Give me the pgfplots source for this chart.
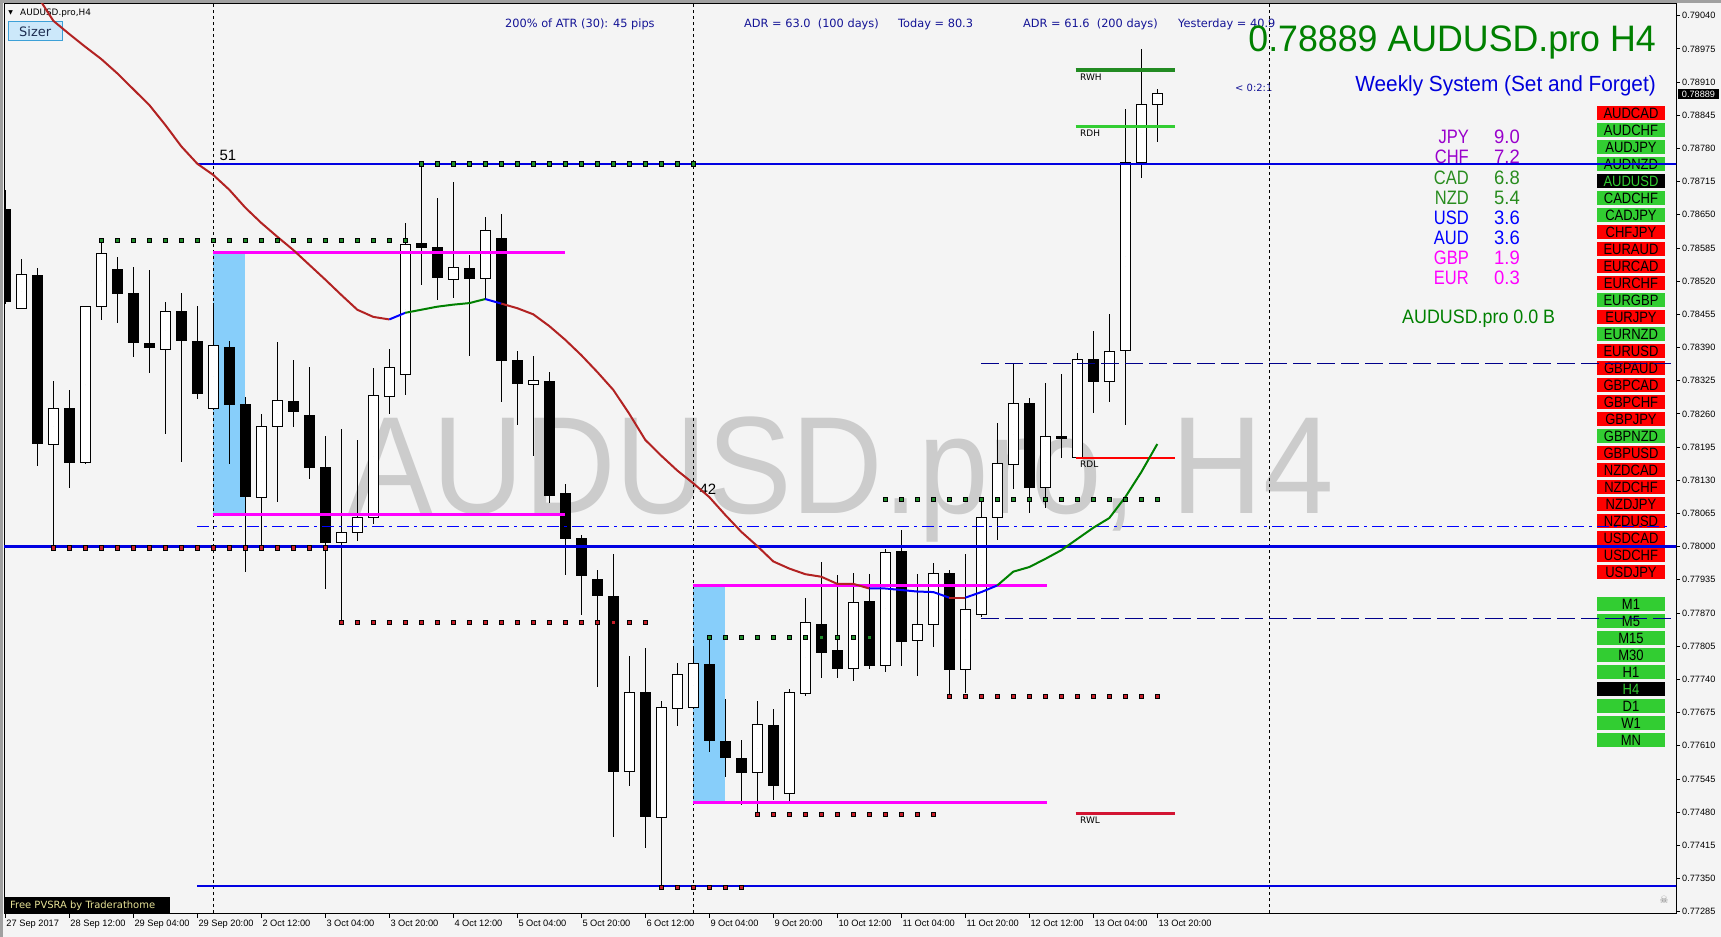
\documentclass[border=0pt]{standalone}
\usepackage{pgfplots}
\pgfplotsset{compat=1.18}
\usepackage{pgfplotstable}
\usepackage{graphicx}
\usepackage{fontspec}
\setmainfont{Liberation Sans}
\newfontfamily\dv{DejaVu Sans}
\newcommand\fs[1]{\fontsize{#1}{#1}\selectfont}

\definecolor{bg}{RGB}{244,244,244}
\definecolor{maRed}{RGB}{178,34,34}
\definecolor{maGreen}{RGB}{0,128,0}
\definecolor{maBlue}{RGB}{0,0,255}
\definecolor{lvlBlue}{RGB}{0,0,225}
\definecolor{navy}{RGB}{0,0,139}
\definecolor{mag}{RGB}{255,0,255}
\definecolor{skyb}{RGB}{135,206,250}
\definecolor{dotG}{RGB}{30,140,40}
\definecolor{dotR}{RGB}{200,30,40}
\definecolor{rwh}{RGB}{34,139,34}
\definecolor{rdh}{RGB}{50,205,50}
\definecolor{rdl}{RGB}{255,0,0}
\definecolor{rwl}{RGB}{210,20,50}
\definecolor{btnR}{RGB}{255,0,0}
\definecolor{btnG}{RGB}{50,205,50}
\definecolor{wm}{RGB}{204,204,204}
\definecolor{txtnavy}{RGB}{20,20,150}
\definecolor{purp}{RGB}{153,0,204}
\definecolor{cadg}{RGB}{40,140,30}
\definecolor{pvsra}{RGB}{230,225,150}
\definecolor{sizerfill}{RGB}{204,232,250}
\definecolor{sizerdraw}{RGB}{60,160,215}
\definecolor{sizertext}{RGB}{30,45,80}
\definecolor{wkblue}{RGB}{0,0,220}
\definecolor{frame}{RGB}{160,160,160}

\pgfplotsset{candlebar/.style={only marks, mark=*, mark size=0pt, mark options={draw=none, fill=none},
  error bars/.cd, y dir=both, y explicit, error mark=none}}

% bearish candles (open > close)
\pgfplotstableread{
i o h l c
0 0.78663 0.78700 0.78475 0.78480
2 0.78533 0.78546 0.78159 0.78202
4 0.78273 0.78307 0.78115 0.78166
7 0.78545 0.78569 0.78439 0.78495
8 0.78496 0.78550 0.78373 0.78398
9 0.78399 0.78542 0.78341 0.78390
11 0.78461 0.78498 0.78166 0.78403
12 0.78404 0.78471 0.78290 0.78300
14 0.78392 0.78404 0.78162 0.78278
15 0.78279 0.78293 0.77951 0.78098
18 0.78287 0.78366 0.78235 0.78265
19 0.78259 0.78352 0.78134 0.78155
20 0.78158 0.78218 0.77918 0.78009
26 0.78597 0.78749 0.78512 0.78586
27 0.78587 0.78684 0.78484 0.78527
29 0.78547 0.78572 0.78374 0.78525
31 0.78605 0.78653 0.78284 0.78363
32 0.78367 0.78384 0.78239 0.78320
34 0.78324 0.78342 0.78085 0.78100
35 0.78105 0.78123 0.77945 0.78016
36 0.78017 0.78024 0.77867 0.77943
37 0.77937 0.77954 0.77726 0.77904
38 0.77905 0.77986 0.77432 0.77560
40 0.77715 0.77803 0.77412 0.77470
44 0.77772 0.77819 0.77598 0.77620
45 0.77621 0.77702 0.77549 0.77587
46 0.77587 0.77621 0.77494 0.77558
48 0.77652 0.77682 0.77504 0.77532
51 0.77849 0.77971 0.77744 0.77792
52 0.77798 0.77944 0.77742 0.77761
54 0.77894 0.77948 0.77761 0.77767
56 0.77992 0.78035 0.77769 0.77815
59 0.77950 0.77956 0.77711 0.77759
64 0.78283 0.78292 0.78067 0.78116
66 0.78217 0.78338 0.78175 0.78211
68 0.78367 0.78424 0.78262 0.78323
}\bear

% bullish candles (close > open)
\pgfplotstableread{
i o h l c
1 0.78466 0.78563 0.78466 0.78533
3 0.78202 0.78324 0.77995 0.78273
5 0.78166 0.78472 0.78162 0.78471
6 0.78471 0.78597 0.78446 0.78575
10 0.78387 0.78479 0.78221 0.78461
13 0.78271 0.78477 0.78268 0.78394
16 0.78097 0.78261 0.77995 0.78236
17 0.78235 0.78401 0.78088 0.78287
21 0.78009 0.78231 0.77852 0.78029
22 0.78028 0.78209 0.78012 0.78058
23 0.78058 0.78350 0.78046 0.78297
24 0.78296 0.78387 0.78260 0.78352
25 0.78339 0.78635 0.78298 0.78594
28 0.78525 0.78716 0.78488 0.78547
30 0.78525 0.78647 0.78484 0.78620
33 0.78319 0.78375 0.78179 0.78327
39 0.77560 0.77786 0.77532 0.77715
41 0.77470 0.77698 0.77334 0.77685
42 0.77683 0.77773 0.77649 0.77750
43 0.77687 0.77805 0.77684 0.77772
47 0.77558 0.77698 0.77480 0.77652
49 0.77517 0.77723 0.77504 0.77715
50 0.77713 0.77900 0.77709 0.77851
53 0.77761 0.77950 0.77738 0.77891
55 0.77768 0.77997 0.77755 0.77990
57 0.77816 0.77948 0.77749 0.77848
58 0.77848 0.77968 0.77804 0.77948
60 0.77761 0.77986 0.77713 0.77877
61 0.77869 0.78087 0.77862 0.78059
62 0.78057 0.78242 0.78012 0.78163
63 0.78161 0.78358 0.78112 0.78281
65 0.78116 0.78321 0.78076 0.78216
67 0.78175 0.78380 0.78172 0.78367
69 0.78323 0.78458 0.78285 0.78382
70 0.78384 0.78857 0.78239 0.78753
71 0.78752 0.78975 0.78723 0.78866
72 0.78867 0.78898 0.78794 0.78889
}\bull

% moving average
\pgfplotstableread{
i p
2 0.79079
3 0.79030
4 0.79004
5 0.78979
6 0.78955
7 0.78927
8 0.78896
9 0.78865
10 0.78826
11 0.78784
12 0.78750
13 0.78728
14 0.78699
15 0.78664
16 0.78634
17 0.78607
18 0.78581
19 0.78552
20 0.78523
21 0.78493
22 0.78464
23 0.78450
24 0.78445
25 0.78458
26 0.78464
27 0.78470
28 0.78474
29 0.78477
30 0.78485
31 0.78476
32 0.78467
33 0.78455
34 0.78432
35 0.78405
36 0.78375
37 0.78342
38 0.78307
39 0.78260
40 0.78209
41 0.78178
42 0.78149
43 0.78124
44 0.78097
45 0.78062
46 0.78029
47 0.78001
48 0.77971
49 0.77957
50 0.77946
51 0.77941
52 0.77927
53 0.77927
54 0.77918
55 0.77918
56 0.77915
57 0.77912
58 0.77911
59 0.77900
60 0.77900
61 0.77911
62 0.77924
63 0.77951
64 0.77960
65 0.77976
66 0.77993
67 0.78015
68 0.78037
69 0.78056
70 0.78097
71 0.78146
72 0.78201
}\ma

\begin{document}
\begin{tikzpicture}
\fill[bg] (0,0) rectangle (1721bp,937bp);
\fill[frame] (0,934bp) rectangle (1721bp,937bp);
\fill[frame] (0,0) rectangle (2.5bp,937bp);
% watermark
\node[anchor=base west, inner sep=0pt, text=wm, font=\fs{139}] at (348bp,423bp) {\scalebox{0.915}[1]{AUDUSD.pro, H4}};

\begin{scope}[x=1bp,y=-1bp,yshift=937bp]
% top-left
\node[inner sep=0pt, font=\dv\fs{6}] at (10.7,12.7) {▼};
\node[anchor=west, inner sep=0pt, font=\dv\fs{8.9}] at (20,12.7) {AUDUSD.pro,H4};
\draw[sizerdraw, fill=sizerfill] (8,21.7) rectangle (62.5,40.7);
\node[inner sep=0pt, font=\dv\fs{13}, text=sizertext] at (35.2,31.2) {Sizer};
% top info line
\node[anchor=base west, inner sep=0pt, font=\dv\fs{11.4}, text=txtnavy] at (505,28) {200\% of ATR (30): 45 pips};
\node[anchor=base west, inner sep=0pt, font=\dv\fs{11.4}, text=txtnavy] at (744,28) {ADR = 63.0\ \ (100 days)};
\node[anchor=base west, inner sep=0pt, font=\dv\fs{11.4}, text=txtnavy] at (898,28) {Today = 80.3};
\node[anchor=base west, inner sep=0pt, font=\dv\fs{11.4}, text=txtnavy] at (1023,28) {ADR = 61.6\ \ (200 days)};
\node[anchor=base west, inner sep=0pt, font=\dv\fs{11.4}, text=txtnavy] at (1178,28) {Yesterday = 40.9};
\node[anchor=base east, inner sep=0pt, text=maGreen, font=\fs{37}] at (1656,51.7) {\scalebox{0.97}[1]{0.78889 AUDUSD.pro H4}};
\node[anchor=base east, inner sep=0pt, text=wkblue, font=\fs{22}] at (1656,91.5) {\scalebox{0.95}[1]{Weekly System (Set and Forget)}};
\node[anchor=base west, inner sep=0pt, font=\dv\fs{10}, text=txtnavy] at (1235,92) {< 0:2:1};
% currency strength
\foreach \n/\v/\b/\c in {JPY/9.0/144/purp, CHF/7.2/164/purp, CAD/6.8/184.7/cadg, NZD/5.4/204.7/cadg, USD/3.6/224.7/maBlue, AUD/3.6/244.7/maBlue, GBP/1.9/264.7/mag, EUR/0.3/284.7/mag}{
  \node[anchor=base east, inner sep=0pt, text=\c, font=\fs{19.5}] at (1469,\b) {\scalebox{0.85}[1]{\n}};
  \node[anchor=base west, inner sep=0pt, text=\c, font=\fs{19.5}] at (1494,\b) {\scalebox{0.95}[1]{\v}};
}
\node[anchor=base west, inner sep=0pt, text=maGreen, font=\fs{19.5}] at (1402,324) {\scalebox{0.92}[1]{AUDUSD.pro 0.0 B}};
% symbol buttons
\foreach \n/\c/\t [count=\k from 0] in {AUDCAD/btnR/black, AUDCHF/btnG/black, AUDJPY/btnG/black, AUDNZD/btnG/black, AUDUSD/black/btnG, CADCHF/btnG/black, CADJPY/btnG/black, CHFJPY/btnR/black, EURAUD/btnR/black, EURCAD/btnR/black, EURCHF/btnR/black, EURGBP/btnG/black, EURJPY/btnR/black, EURNZD/btnG/black, EURUSD/btnR/black, GBPAUD/btnR/black, GBPCAD/btnR/black, GBPCHF/btnR/black, GBPJPY/btnR/black, GBPNZD/btnG/black, GBPUSD/btnR/black, NZDCAD/btnR/black, NZDCHF/btnR/black, NZDJPY/btnR/black, NZDUSD/btnR/black, USDCAD/btnR/black, USDCHF/btnR/black, USDJPY/btnR/black}{
  \fill[\c] (1597,{106+17*\k}) rectangle (1665,{120+17*\k});
  \node[inner sep=0pt, text=\t, font=\fs{15}] at (1631,{113.3+17*\k}) {\scalebox{0.87}[1]{\n}};
}
\foreach \n/\c/\t [count=\k from 0] in {M1/btnG/black, M5/btnG/black, M15/btnG/black, M30/btnG/black, H1/btnG/black, H4/black/btnG, D1/btnG/black, W1/btnG/black, MN/btnG/black}{
  \fill[\c] (1597,{597+17*\k}) rectangle (1665,{611+17*\k});
  \node[inner sep=0pt, text=\t, font=\fs{15}] at (1631,{604.3+17*\k}) {\scalebox{0.87}[1]{\n}};
}
% level labels
\node[inner sep=0pt, font=\fs{15}] at (228,155) {51};
\node[inner sep=0pt, font=\fs{15}] at (708,489) {42};
\node[anchor=west, inner sep=0pt, font=\dv\fs{9}] at (1080,77) {RWH};
\node[anchor=west, inner sep=0pt, font=\dv\fs{9}] at (1080,133.3) {RDH};
\node[anchor=west, inner sep=0pt, font=\dv\fs{9}] at (1080,464.3) {RDL};
\node[anchor=west, inner sep=0pt, font=\dv\fs{9}] at (1080,820) {RWL};
% PVSRA box
\fill[black] (4,896.7) rectangle (170,913.5);
\node[anchor=west, inner sep=0pt, text=pvsra, font=\dv\fs{10}] at (10,905.3) {Free PVSRA by Traderathome};
\node[inner sep=0pt, text=gray, font=\dv\fs{10}] at (1664,900) {☠};
\end{scope}

\begin{axis}[
 at={(4bp,23bp)}, anchor=south west,
 scale only axis, width=1672bp, height=910bp,
 xmin=-0.08125, xmax=104.41875,
 ymin=0.772804, ymax=0.790629,
 axis line style={black, line width=1bp},
 xtick pos=lower, ytick pos=right, yticklabel pos=right,
 tick align=outside, major tick length=4bp,
 tick style={black, line width=0.8bp},
 xtick={0,4,...,72},
 xticklabels={27 Sep 2017,28 Sep 12:00,29 Sep 04:00,29 Sep 20:00,2 Oct 12:00,3 Oct 04:00,3 Oct 20:00,4 Oct 12:00,5 Oct 04:00,5 Oct 20:00,6 Oct 12:00,9 Oct 04:00,9 Oct 20:00,10 Oct 12:00,11 Oct 04:00,11 Oct 20:00,12 Oct 12:00,13 Oct 04:00,13 Oct 20:00},
 ytick={0.77285,0.77350,0.77415,0.77480,0.77545,0.77610,0.77675,0.77740,0.77805,0.77870,0.77935,0.78000,0.78065,0.78130,0.78195,0.78260,0.78325,0.78390,0.78455,0.78520,0.78585,0.78650,0.78715,0.78780,0.78845,0.78910,0.78975,0.79040},
 yticklabels={0.77285,0.77350,0.77415,0.77480,0.77545,0.77610,0.77675,0.77740,0.77805,0.77870,0.77935,0.78000,0.78065,0.78130,0.78195,0.78260,0.78325,0.78390,0.78455,0.78520,0.78585,0.78650,0.78715,0.78780,0.78845,0.78910,0.78975,0.79040},
 xticklabel style={font=\fs{9.3}, anchor=north west, inner sep=0pt, xshift=1bp, yshift=-2bp},
 yticklabel style={font=\fs{9.2}, anchor=west, inner sep=0pt, xshift=2bp},
 scaled y ticks=false,
]
% zones
\addplot[fill=skyb, draw=none] coordinates {(13,0.78577) (15,0.78577) (15,0.78063) (13,0.78063)} -- cycle;
\addplot[fill=skyb, draw=none] coordinates {(43,0.77923) (45,0.77923) (45,0.77499) (43,0.77499)} -- cycle;
% separators
\addplot[black, line width=1bp, dash pattern=on 3bp off 3bp] coordinates {(13,0.7720) (13,0.7910)};
\addplot[black, line width=1bp, dash pattern=on 3bp off 3bp] coordinates {(43,0.7720) (43,0.7910)};
\addplot[black, line width=1bp, dash pattern=on 3bp off 3bp] coordinates {(79,0.7720) (79,0.7910)};
% candles: wicks
\addplot[candlebar, error bar style={black, line width=1bp, line cap=butt}]
  table[x=i, y expr={(\thisrow{h}+\thisrow{l})/2}, y error expr={(\thisrow{h}-\thisrow{l})/2}] {\bear};
\addplot[candlebar, error bar style={black, line width=1bp, line cap=butt}]
  table[x=i, y expr={(\thisrow{h}+\thisrow{l})/2}, y error expr={(\thisrow{h}-\thisrow{l})/2}] {\bull};
% bearish bodies
\addplot[candlebar, error bar style={black, line width=10.5bp, line cap=butt}]
  table[x=i, y expr={(\thisrow{o}+\thisrow{c})/2}, y error expr={max((\thisrow{o}-\thisrow{c})/2,0.0000098)}] {\bear};
% bullish bodies
\addplot[candlebar, error bar style={black, line width=10.5bp, line cap=butt}]
  table[x=i, y expr={(\thisrow{o}+\thisrow{c})/2}, y error expr={(\thisrow{c}-\thisrow{o})/2+0.0000098}] {\bull};
\addplot[candlebar, error bar style={white, line width=8.5bp, line cap=butt}]
  table[x=i, y expr={(\thisrow{o}+\thisrow{c})/2}, y error expr={max((\thisrow{c}-\thisrow{o})/2-0.0000098,0)}] {\bull};
% horizontal levels
\addplot[lvlBlue, line width=2bp] coordinates {(12,0.78750) (104.6,0.78750)};
\addplot[lvlBlue, line width=3bp] coordinates {(-1,0.78000) (104.6,0.78000)};
\addplot[lvlBlue, line width=2bp] coordinates {(12,0.77335) (104.6,0.77335)};
\addplot[navy, line width=1bp, dash pattern=on 18bp off 6bp] coordinates {(61,0.78358) (104.1,0.78358)};
\addplot[navy, line width=1bp, dash pattern=on 18bp off 6bp] coordinates {(61,0.77860) (104.1,0.77860)};
\addplot[maBlue, line width=1bp, dash pattern=on 12bp off 5bp on 3bp off 5bp] coordinates {(12,0.78040) (104.1,0.78040)};
% magenta zone lines
\addplot[mag, line width=3bp] coordinates {(13,0.78577) (35,0.78577)};
\addplot[mag, line width=3bp] coordinates {(13,0.78063) (35,0.78063)};
\addplot[mag, line width=3bp] coordinates {(43,0.77923) (65.1,0.77923)};
\addplot[mag, line width=3bp] coordinates {(43,0.77499) (65.1,0.77499)};
% range lines
\addplot[rwh, line width=4bp] coordinates {(66.9,0.78933) (73.1,0.78933)};
\addplot[rdh, line width=2.5bp] coordinates {(66.9,0.78823) (73.1,0.78823)};
\addplot[rdl, line width=2.5bp] coordinates {(66.9,0.78174) (73.1,0.78174)};
\addplot[rwl, line width=3bp] coordinates {(66.9,0.77478) (73.1,0.77478)};
% dotted levels
\addplot[only marks, mark=square*, mark size=2.2bp, mark options={draw=none, fill=dotG}] coordinates {(6,0.78600)(7,0.78600)(8,0.78600)(9,0.78600)(10,0.78600)(11,0.78600)(12,0.78600)(13,0.78600)(14,0.78600)(15,0.78600)(16,0.78600)(17,0.78600)(18,0.78600)(19,0.78600)(20,0.78600)(21,0.78600)(22,0.78600)(23,0.78600)(24,0.78600)(25,0.78600)};
\addplot[only marks, mark=square*, mark size=2.2bp, mark options={draw=none, fill=dotG}] coordinates {(26,0.78750)(27,0.78750)(28,0.78750)(29,0.78750)(30,0.78750)(31,0.78750)(32,0.78750)(33,0.78750)(34,0.78750)(35,0.78750)(36,0.78750)(37,0.78750)(38,0.78750)(39,0.78750)(40,0.78750)(41,0.78750)(42,0.78750)(43,0.78750)};
\addplot[only marks, mark=square*, mark size=2.2bp, mark options={draw=none, fill=dotG}] coordinates {(44,0.77822)(45,0.77822)(46,0.77822)(47,0.77822)(48,0.77822)(49,0.77822)(50,0.77822)(51,0.77822)(52,0.77822)(53,0.77822)(54,0.77822)};
\addplot[only marks, mark=square*, mark size=2.2bp, mark options={draw=none, fill=dotG}] coordinates {(55,0.78093)(56,0.78093)(57,0.78093)(58,0.78093)(59,0.78093)(60,0.78093)(61,0.78093)(62,0.78093)(63,0.78093)(64,0.78093)(65,0.78093)(66,0.78093)(67,0.78093)(68,0.78093)(69,0.78093)(70,0.78093)(71,0.78093)(72,0.78093)};
\addplot[only marks, mark=square*, mark size=2.2bp, mark options={draw=none, fill=dotR}] coordinates {(3,0.77998)(4,0.77998)(5,0.77998)(6,0.77998)(7,0.77998)(8,0.77998)(9,0.77998)(10,0.77998)(11,0.77998)(12,0.77998)(13,0.77998)(14,0.77998)(15,0.77998)(16,0.77998)(17,0.77998)(18,0.77998)(19,0.77998)(20,0.77998)};
\addplot[only marks, mark=square*, mark size=2.2bp, mark options={draw=none, fill=dotR}] coordinates {(21,0.77852)(22,0.77852)(23,0.77852)(24,0.77852)(25,0.77852)(26,0.77852)(27,0.77852)(28,0.77852)(29,0.77852)(30,0.77852)(31,0.77852)(32,0.77852)(33,0.77852)(34,0.77852)(35,0.77852)(36,0.77852)(37,0.77852)(38,0.77852)(39,0.77852)(40,0.77852)};
\addplot[only marks, mark=square*, mark size=2.2bp, mark options={draw=none, fill=dotR}] coordinates {(41,0.77333)(42,0.77333)(43,0.77333)(44,0.77333)(45,0.77333)(46,0.77333)};
\addplot[only marks, mark=square*, mark size=2.2bp, mark options={draw=none, fill=dotR}] coordinates {(47,0.77476)(48,0.77476)(49,0.77476)(50,0.77476)(51,0.77476)(52,0.77476)(53,0.77476)(54,0.77476)(55,0.77476)(56,0.77476)(57,0.77476)(58,0.77476)};
\addplot[only marks, mark=square*, mark size=2.2bp, mark options={draw=none, fill=dotR}] coordinates {(59,0.77707)(60,0.77707)(61,0.77707)(62,0.77707)(63,0.77707)(64,0.77707)(65,0.77707)(66,0.77707)(67,0.77707)(68,0.77707)(69,0.77707)(70,0.77707)(71,0.77707)(72,0.77707)};
% moving average
\addplot[maRed, line width=2bp, restrict x to domain=0:24] table[x=i,y=p] {\ma};
\addplot[maBlue, line width=2bp, restrict x to domain=24:25] table[x=i,y=p] {\ma};
\addplot[maGreen, line width=2bp, restrict x to domain=25:30] table[x=i,y=p] {\ma};
\addplot[maBlue, line width=2bp, restrict x to domain=30:31] table[x=i,y=p] {\ma};
\addplot[maRed, line width=2bp, restrict x to domain=31:54] table[x=i,y=p] {\ma};
\addplot[maBlue, line width=2bp, restrict x to domain=54:59] table[x=i,y=p] {\ma};
\addplot[maRed, line width=2bp, restrict x to domain=59:60] table[x=i,y=p] {\ma};
\addplot[maBlue, line width=2bp, restrict x to domain=60:62] table[x=i,y=p] {\ma};
\addplot[maGreen, line width=2bp, restrict x to domain=62:72] table[x=i,y=p] {\ma};
\end{axis}

% current price marker on the price scale
\begin{scope}[x=1bp,y=-1bp,yshift=937bp]
\fill[black] (1678,89.3) rectangle (1719,98.7);
\node[inner sep=0pt, text=white, font=\fs{9.2}] at (1698.5,94) {0.78889};
\end{scope}
\pgfresetboundingbox
\path (0,0) rectangle (1721bp,937bp);
\end{tikzpicture}
\end{document}
